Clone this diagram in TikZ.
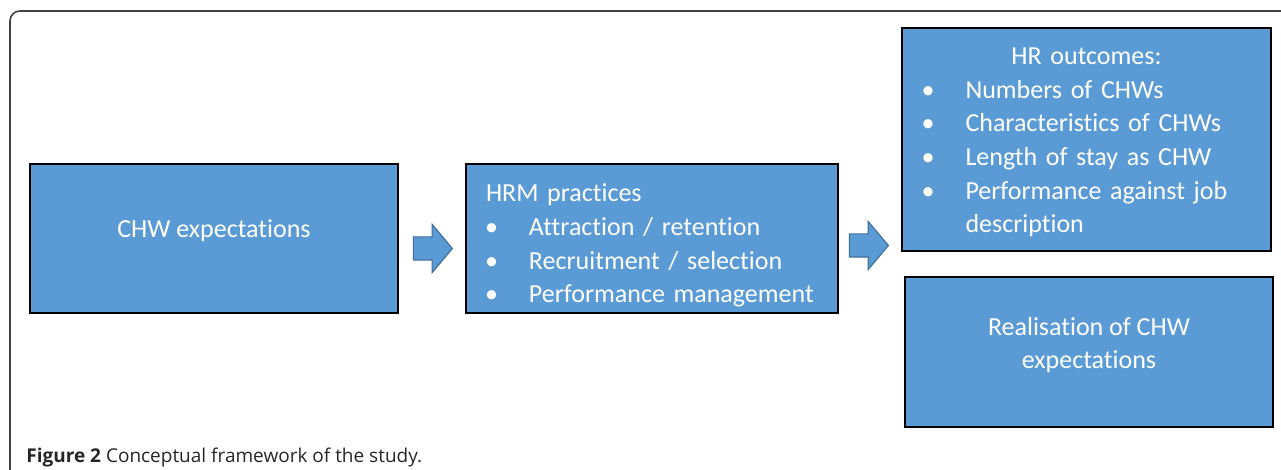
\documentclass[tikz,border=0pt]{standalone}
\usepackage{fontspec}
\setmainfont{Carlito}[Ligatures=NoCommon]
\newfontfamily\capfont{Open Sans}
\usetikzlibrary{calc}
\usetikzlibrary{positioning}
\usetikzlibrary{shapes.arrows}

\definecolor{officeblue}{HTML}{5B9BD5}
\definecolor{arrowedge}{HTML}{41719C}

\tikzset{
    fwbox/.style={draw=black,line width=0.8pt,fill=officeblue,inner sep=0pt},
    fwtext/.style={text=white,font=\fontsize{13}{16.8}\selectfont,inner sep=0pt},
    fwarrow/.style={single arrow,draw=arrowedge,line width=0.6pt,fill=officeblue,
        inner xsep=0pt,inner ysep=5.5pt,minimum height=19.5pt,
        single arrow head extend=6.25pt,single arrow tip angle=100},
}
\newcommand{\fwitem}[1]{\par\noindent
    \makebox[21.5pt][l]{\hspace{-0.5pt}\textbullet}#1}
\newcommand{\fwmore}[1]{\par\noindent\hspace*{21.5pt}#1}

\begin{document}
\begin{tikzpicture}[x=0.5pt,y=-0.5pt]
                    \useasboundingbox (0,0) rectangle (1281,470);
                    % frame
                    \draw[line width=0.8pt,draw=black!75,rounded corners=5pt]
                        (10,470) -- (10,11) -- (1281,11);
                    % boxes
                    \node[fwbox,minimum width=184pt,minimum height=74.5pt] (expect) at (214,238.5) {};
                    \node[fwbox,minimum width=186pt,minimum height=74.5pt] (hrm) at (652,238.5) {};
                    \node[fwbox,minimum width=184.5pt,minimum height=111.5pt] (outcome) at (1086.5,139.5) {};
                    \node[fwbox,minimum width=184pt,minimum height=75pt] (realise) at (1089,352) {};
                    % texts
                    \node[fwtext,yshift=4pt] (expecttxt) at (expect) {CHW expectations};
                    \node[fwtext,text width=166pt,align=left,yshift=-3.5pt] (hrmtxt) at (hrm) {%
                        HRM practices
                        \fwitem{Attraction / retention}
                        \fwitem{Recruitment / selection}
                        \fwitem{Performance management}};
                    \node[fwtext,text width=164pt,align=left,yshift=-1.5pt] (outcometxt) at (outcome) {%
                        \hfill HR outcomes:\hfill\null
                        \fwitem{Numbers of CHWs}
                        \fwitem{Characteristics of CHWs}
                        \fwitem{Length of stay as CHW}
                        \fwitem{Performance against job}
                        \fwmore{description}};
                    \node[fwtext,align=center,yshift=3.5pt] (realisetxt) at (realise)
                        {Realisation of CHW\\expectations};
                    % arrows
                    \node[fwarrow] (arrowa) at ($(expect.east)!0.5!(hrm.west)+(-4,10)$) {};
                    \node[fwarrow] (arrowb) at ($(hrm.east)!0.5!(hrm.east -| outcome.west)+(-6,7)$) {};
                    % caption
                    \node[anchor=base west,inner sep=0pt,text=black!85,
                        font=\capfont\fontsize{9.5}{11}\selectfont] (caption) at (26,463)
                        {\textbf{Figure 2} Conceptual framework of the study.};
                \end{tikzpicture}
\end{document}
